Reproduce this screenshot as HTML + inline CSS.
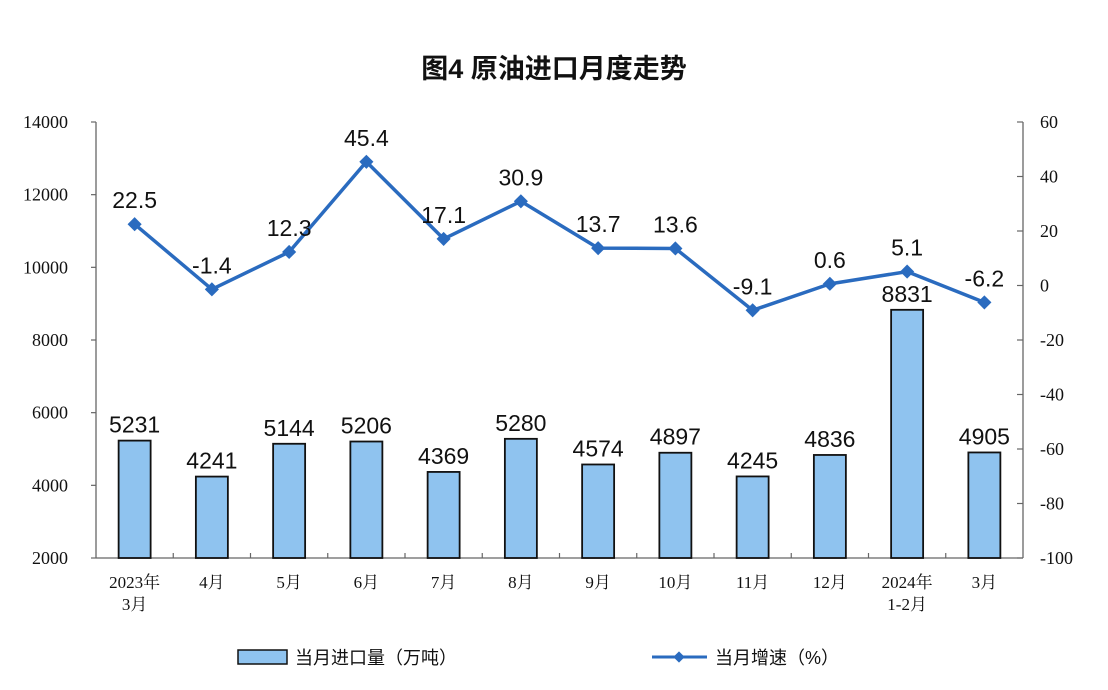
<!DOCTYPE html>
<html><head><meta charset="utf-8"><style>
html,body{margin:0;padding:0;background:#fff;}
svg{display:block}
.s{font-family:"Liberation Sans","Noto Sans CJK SC",sans-serif;}
.t{font-family:"Liberation Serif","Noto Serif CJK SC",serif;}
</style></head><body>
<svg width="1108" height="690" viewBox="0 0 1108 690" xmlns="http://www.w3.org/2000/svg">
<rect width="1108" height="690" fill="#fff"/>
<text x="554" y="78" text-anchor="middle" class="s" font-size="27" font-weight="bold" fill="#111">图4  原油进口月度走势</text>
<g stroke="#666" stroke-width="1.3" fill="none">
<line x1="96" y1="122" x2="96" y2="558"/>
<line x1="1023" y1="122" x2="1023" y2="558"/>
<line x1="96" y1="558" x2="1023" y2="558"/>
</g>
<g class="t" font-size="18" fill="#111" id="ll"></g>
<g class="t" font-size="18" fill="#111" id="rl"></g>
<g id="ticks" stroke="#666" stroke-width="1.2"></g>
<g id="bars"></g>
<g id="line"></g>
<g class="t" font-size="17" fill="#111" id="xl"></g>
<rect x="238" y="650" width="49" height="14" fill="#8fc3ef" stroke="#111" stroke-width="1.5"/>
<text x="295" y="664" class="s" font-size="18" fill="#111">当月进口量（万吨）</text>
<line x1="652" y1="657" x2="707" y2="657" stroke="#2a6bbf" stroke-width="3"/>
<rect x="675" y="653" width="8" height="8" fill="#2a6bbf" transform="rotate(45 679 657)"/>
<text x="715" y="664" class="s" font-size="18" fill="#111">当月增速（%）</text>
</svg>
<script>
var NS="http://www.w3.org/2000/svg";
function el(p,t,a,txt){var e=document.createElementNS(NS,t);for(var k in a)e.setAttribute(k,a[k]);if(txt!=null)e.textContent=txt;document.getElementById(p).appendChild(e);return e;}
function yl(v){return 558-(v-2000)*436/12000;}
function yr(p){return 122+(60-p)*436/160;}
for(var v=2000;v<=14000;v+=2000){el("ll","text",{x:68,y:yl(v)+6,"text-anchor":"end"},v);el("ticks","line",{x1:91,y1:yl(v),x2:96,y2:yl(v)});}
for(var p=-100;p<=60;p+=20){el("rl","text",{x:1040,y:yr(p)+6},p);el("ticks","line",{x1:1017,y1:yr(p),x2:1023,y2:yr(p)});}
var W=927/12;
for(var i=1;i<12;i++){var x=96+W*i;el("ticks","line",{x1:x,y1:553,x2:x,y2:558});}
var bars=[5231,4241,5144,5206,4369,5280,4574,4897,4245,4836,8831,4905];
var pct=[22.5,-1.4,12.3,45.4,17.1,30.9,13.7,13.6,-9.1,0.6,5.1,-6.2];
var labs=[["2023年","3月"],["4月"],["5月"],["6月"],["7月"],["8月"],["9月"],["10月"],["11月"],["12月"],["2024年","1-2月"],["3月"]];
var pts=[];
for(var i=0;i<12;i++){var c=96+W*(i+0.5);var y=yl(bars[i]);
el("bars","rect",{x:c-16,y:y,width:32,height:558-y,fill:"#8fc3ef",stroke:"#111","stroke-width":1.8});
el("bars","text",{x:c,y:y-8,"text-anchor":"middle","class":"s","font-size":23,fill:"#111"},bars[i]);
pts.push(c+","+yr(pct[i]));
labs[i].forEach(function(s,j){el("xl","text",{x:c,y:588+j*22,"text-anchor":"middle"},s);});
}
el("line","polyline",{points:pts.join(" "),fill:"none",stroke:"#2a6bbf","stroke-width":3.5,"stroke-linejoin":"round"});
for(var i=0;i<12;i++){var c=96+W*(i+0.5),y=yr(pct[i]);
el("line","rect",{x:c-5,y:y-5,width:10,height:10,fill:"#2a6bbf",transform:"rotate(45 "+c+" "+y+")"});
el("line","text",{x:c,y:y-16,"text-anchor":"middle","class":"s","font-size":23,fill:"#111"},pct[i].toFixed(1));}
</script>
</body></html>
